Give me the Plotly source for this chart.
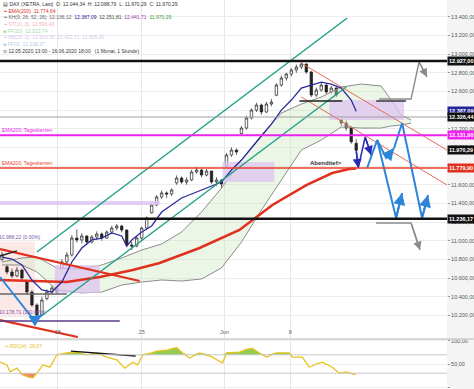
import plotly.graph_objects as go

# ---------------- data ----------------
bar_idx = list(range(72))
opens = [10800, 10720, 10665, 10622, 10686, 10560, 10450, 10311, 10204, 10380, 10450, 10493,
         10700, 10772, 10847, 11029, 11008, 11051, 10986, 11040, 11072, 11029, 11093, 11136,
         11158, 11115, 10954, 10943, 11029, 11136, 11300, 11383, 11469, 11512, 11501, 11620,
         11672, 11629, 11651, 11737, 11758, 11704, 11747, 11629, 11651, 11800, 11919, 11972,
         12150, 12208, 12316, 12401, 12455, 12380, 12466, 12560, 12669, 12744, 12787, 12830,
         12862, 12894, 12809, 12562, 12616, 12669, 12594, 12637, 12300, 12262, 12208, 12044.34]
highs = [10880, 10740, 10700, 10720, 10700, 10580, 10470, 10330, 10400, 10480, 10520, 10510,
         10800, 10880, 11060, 11120, 11080, 11060, 11060, 11100, 11090, 11110, 11160, 11180,
         11170, 11120, 10990, 11050, 11150, 11260, 11400, 11490, 11540, 11530, 11560, 11700,
         11690, 11680, 11760, 11790, 11770, 11770, 11750, 11680, 11660, 11940, 12000, 11990,
         12230, 12340, 12420, 12480, 12470, 12490, 12520, 12690, 12770, 12800, 12850, 12890,
         12913, 12900, 12820, 12640, 12700, 12680, 12660, 12650, 12320, 12290, 12230, 12088.79]
lows = [10780, 10640, 10600, 10610, 10580, 10420, 10290, 10179, 10190, 10360, 10420, 10430,
        10690, 10750, 10830, 10980, 10970, 10960, 10970, 11010, 11000, 11020, 11070, 11110,
        11090, 10930, 10900, 10930, 11010, 11120, 11290, 11370, 11450, 11460, 11480, 11600,
        11610, 11600, 11640, 11720, 11680, 11690, 11610, 11590, 11560, 11790, 11900, 11920,
        12140, 12190, 12300, 12380, 12350, 12370, 12440, 12550, 12650, 12720, 12760, 12800,
        12840, 12790, 12540, 12540, 12600, 12570, 12580, 12540, 12230, 12180, 12040, 11970.29]
closes = [10847, 10665, 10622, 10686, 10600, 10450, 10311, 10204, 10364, 10450, 10493, 10450,
          10772, 10847, 11029, 11008, 11051, 10986, 11040, 11072, 11029, 11093, 11136, 11158,
          11115, 10954, 10943, 11029, 11136, 11244, 11383, 11469, 11512, 11501, 11544, 11672,
          11629, 11651, 11737, 11758, 11704, 11747, 11629, 11651, 11608, 11919, 11972, 11951,
          12208, 12316, 12401, 12455, 12380, 12466, 12487, 12669, 12744, 12787, 12830, 12862,
          12894, 12809, 12562, 12616, 12669, 12594, 12637, 12562, 12262, 12208, 12060, 11970.29]

date_tick_pos = [11.2, 28.0, 44.6, 57.8]
date_tick_text = ["18", "25", "Jun", "8"]
price_ticks = [10000, 10200, 10400, 10600, 10800, 11000, 11200, 11400, 11600, 11800,
               12000, 12200, 12400, 12600, 12800, 13000, 13200, 13400]
rsi_ticks = [0, 50, 100]

# Ichimoku cloud (two spans)
cloud_idx = [0, 4, 7, 11, 16, 20, 24, 28, 32, 36, 40, 44, 48, 52, 56, 60, 64, 68, 72, 76, 78, 80, 82]
cloud_upper = [10772, 10815, 10825, 10708, 10697, 10740, 10815, 10900, 10965, 11093, 11308, 11565,
               11865, 12133, 12369, 12466, 12541, 12648, 12680, 12659, 12508, 12348, 12294]
cloud_lower = [10740, 10740, 10665, 10472, 10440, 10450, 10525, 10557, 10579, 10568, 10590, 10708,
               10986, 11329, 11651, 11972, 12080, 12219, 12208, 12208, 12230, 12240, 12262]

# Tenkan line (navy)
tenkan_idx = [0, 2, 4, 6, 8, 10, 12, 14, 16, 18, 20, 22, 24, 25, 26, 28, 30, 32, 34, 36, 38, 40,
              42, 44, 46, 48, 50, 52, 54, 56, 58, 60, 62, 64, 66, 68, 70, 71]
tenkan_val = [10825, 10804, 10740, 10579, 10472, 10450, 10557, 10772, 10922, 11008, 11029, 11083,
              11051, 10943, 11008, 11093, 11158, 11308, 11383, 11458, 11501, 11544, 11587, 11629,
              11758, 11865, 11994, 12123, 12251, 12401, 12508, 12637, 12669, 12701, 12680, 12637,
              12508, 12387.09]

# EMA(200)
ema_idx = [-0.4, 5.6, 13, 19.6, 26.2, 31.6, 39.6, 47.6, 54.2, 61, 66.2, 69.6, 71]
ema_val = [10579, 10568, 10557, 10611, 10686, 10761, 10922, 11115, 11383, 11597, 11726, 11769, 11774.64]

# horizontal levels
level_vals = [12927.00, 12326.44, 12131.90, 11779.90, 11236.17]
level_colors = ["#111111", "#a0a0a0", "#ee22ee", "#e8402a", "#111111"]
level_widths = [2.6, 1.2, 2.0, 1.5, 2.6]

# right-hand price labels
label_vals = [12927.00, 12387.09, 12326.44, 12131.90, 11970.29, 11779.90, 11236.17]
label_bg = ["#111111", "#23239a", "#111111", "#ee22ee", "#111111", "#e0301e", "#111111"]

# shaded zones: x0, x1 (bar index), y0, y1 (price)
zone_x0 = [10.6, 44.2, 65.6]
zone_x1 = [19.6, 54.6, 80.6]
zone_y0 = [10440, 11629, 12294]
zone_y1 = [10740, 11844, 12508]

fib_x = [-0.4, 6.6]
fib_levels = [10988.22, 10178.71]

# trend lines: (x list, y list)
teal_upper_x, teal_upper_y = [7, 69.2], [10879, 13388]
teal_lower_x, teal_lower_y = [7.6, 69], [10182, 12648]
red_thick_up_x, red_thick_up_y = [-0.4, 27.6], [10911, 10568]
red_thick_lo_x, red_thick_lo_y = [-0.4, 15.2], [10150, 9968]
red_thin1_x, red_thin1_y = [60, 89.2], [12905, 11972]
red_thin2_x, red_thin2_y = [60, 89.2], [12541, 11597]
blue_left_x, blue_left_y = [-0.4, 6.4, 8], [10611, 10150, 10204]
band_x, band_y = [-0.4, 31.6], [11404, 11404]
gray_short_x, gray_short_y = [-0.4, 13], [10429, 10429]
purple_low_x, purple_low_y = [-0.4, 23.6], [10140, 10140]
black_seg1_x, black_seg1_y = [59.6, 68.2], [12498, 12498]
black_seg2_x, black_seg2_y = [75, 81], [12498, 12498]
black_small_x, black_small_y = [-0.4, 3], [10836, 10890]

# forecast arrows
gray_up_x, gray_up_y = [75.6, 82, 83.6, 85.2], [12519, 12519, 12916, 12755]
gray_dn_x, gray_dn_y = [75, 82, 83.8], [11190, 11190, 10900]
navy_x, navy_y = [71, 71.4, 72.8, 74], [11972, 11780, 12112, 11919]
blue_a_x, blue_a_y = [73.2, 75.2, 77, 78.6], [11780, 12080, 11887, 11994]
blue_b_x, blue_b_y = [75.2, 79, 80.2], [12080, 11244, 11512]
blue_c_x, blue_c_y = [78.6, 80.2, 84.2, 85.4], [11994, 12262, 11244, 11490]

# RSI(14)
rsi_idx = [-0.4, 1, 1.6, 3, 4.2, 5.2, 6.2, 7, 8.2, 9.6, 11, 13, 15, 17, 19, 21, 23, 24.6, 26.2,
           27.2, 28.2, 30, 31, 33, 35, 36.2, 37.6, 39.6, 42.2, 44.2, 45, 47.6, 49, 50.2, 51.6,
           53, 55, 57.6, 58.2, 60.2, 61.6, 63, 64.2, 66.2, 67.6, 69, 70.8]
rsi_val = [54, 48, 33, 41, 26, 22, 20, 30, 48, 43, 70, 74, 76, 70, 74, 65, 59, 41, 54,
           48, 70, 74, 78, 80, 86, 74, 63, 74, 65, 52, 74, 76, 82, 84, 74,
           65, 74, 74, 65, 65, 43, 50, 54, 43, 30, 33, 26.87]
rsi_div_x, rsi_div_y = [13.8, 26.8], [78, 67.4]
rsi_bands = [70, 30]


def de(v):
    s = f"{v:,.2f}"
    return s.replace(",", "X").replace(".", ",").replace("X", ".")


FONT = "Arial, Liberation Sans, sans-serif"
fig = go.Figure()

# cloud
fig.add_trace(go.Scatter(x=cloud_idx, y=cloud_lower, mode="lines",
                         line=dict(color="#8c8c8c", width=1), hoverinfo="skip"))
fig.add_trace(go.Scatter(x=cloud_idx, y=cloud_upper, mode="lines", fill="tonexty",
                         fillcolor="rgba(205,232,195,0.4)",
                         line=dict(color="#8c8c8c", width=1), hoverinfo="skip"))

# zones (drawn above the cloud fill, below candles)
for x0, x1, y0, y1 in zip(zone_x0, zone_x1, zone_y0, zone_y1):
    fig.add_trace(go.Scatter(x=[x0, x1, x1, x0, x0], y=[y0, y0, y1, y1, y0], mode="lines",
                             fill="toself", fillcolor="rgba(222,195,240,0.75)",
                             line=dict(width=0), hoverinfo="skip"))

shapes = []
shapes.append(dict(type="rect", xref="x", yref="y", x0=fib_x[0], x1=fib_x[1],
                   y0=fib_levels[1], y1=fib_levels[0],
                   fillcolor="rgba(250,205,205,0.45)", line=dict(width=0), layer="below"))

# horizontal levels
for v, c, w in zip(level_vals, level_colors, level_widths):
    shapes.append(dict(type="line", xref="paper", yref="y", x0=0, x1=1, y0=v, y1=v,
                       line=dict(color=c, width=w)))

# RSI bands
for v in rsi_bands:
    shapes.append(dict(type="line", xref="paper", yref="y2", x0=0, x1=1, y0=v, y1=v,
                       line=dict(color="#c8c8c8", width=1)))
# panel separator
shapes.append(dict(type="line", xref="paper", yref="paper", x0=0, x1=1.1, y0=0.1285, y1=0.1285,
                   line=dict(color="#cfcfcf", width=1.5)))


def line(x, y, color, width, dash=None):
    fig.add_trace(go.Scatter(x=x, y=y, mode="lines", hoverinfo="skip",
                             line=dict(color=color, width=width, dash=dash)))


line(band_x, band_y, "rgba(220,195,238,0.8)", 4)
line(ema_idx, ema_val, "#e0301e", 2.6)
line(tenkan_idx, tenkan_val, "#2b2b9a", 1.3)

fig.add_trace(go.Candlestick(
    x=bar_idx, open=opens, high=highs, low=lows, close=closes,
    increasing=dict(line=dict(color="#222222", width=0.7), fillcolor="#ffffff"),
    decreasing=dict(line=dict(color="#222222", width=0.7), fillcolor="#222222"),
    whiskerwidth=0, hoverinfo="skip", showlegend=False))

line(teal_upper_x, teal_upper_y, "#1f9e86", 1.4)
line(teal_lower_x, teal_lower_y, "#1f9e86", 1.4)
line(red_thick_up_x, red_thick_up_y, "#e0301e", 2.2)
line(red_thick_lo_x, red_thick_lo_y, "#e0301e", 2.2)
line(red_thin1_x, red_thin1_y, "#e86a5a", 1)
line(red_thin2_x, red_thin2_y, "#e86a5a", 1)
line(gray_short_x, gray_short_y, "#666666", 1.5)
line(purple_low_x, purple_low_y, "#5a3a8a", 1.5)
line(black_seg1_x, black_seg1_y, "#222222", 1.3)
line(black_seg2_x, black_seg2_y, "#222222", 1.3)
line(black_small_x, black_small_y, "#222222", 1.3)
line(blue_left_x, blue_left_y, "#2d85d8", 2)
line(gray_up_x, gray_up_y, "#8a8a8a", 1.4)
line(gray_dn_x, gray_dn_y, "#8a8a8a", 1.4)
line(navy_x, navy_y, "#2a2ab8", 1.5)
line(blue_a_x, blue_a_y, "#2d85d8", 2)
line(blue_b_x, blue_b_y, "#2d85d8", 2)
line(blue_c_x, blue_c_y, "#2d85d8", 2)

# RSI panel
rsi_hi = [max(v, rsi_bands[0]) for v in rsi_val]
rsi_lo = [min(v, rsi_bands[1]) for v in rsi_val]
fig.add_trace(go.Scatter(x=rsi_idx, y=[rsi_bands[0]] * len(rsi_idx), mode="lines",
                         line=dict(width=0), xaxis="x2", yaxis="y2", hoverinfo="skip"))
fig.add_trace(go.Scatter(x=rsi_idx, y=rsi_hi, mode="lines", fill="tonexty",
                         fillcolor="rgba(120,190,40,0.8)", line=dict(width=0),
                         xaxis="x2", yaxis="y2", hoverinfo="skip"))
fig.add_trace(go.Scatter(x=rsi_idx, y=[rsi_bands[1]] * len(rsi_idx), mode="lines",
                         line=dict(width=0), xaxis="x2", yaxis="y2", hoverinfo="skip"))
fig.add_trace(go.Scatter(x=rsi_idx, y=rsi_lo, mode="lines", fill="tonexty",
                         fillcolor="rgba(240,110,60,0.8)", line=dict(width=0),
                         xaxis="x2", yaxis="y2", hoverinfo="skip"))
fig.add_trace(go.Scatter(x=rsi_idx, y=rsi_val, mode="lines", line=dict(color="#e8c21e", width=1.3),
                         xaxis="x2", yaxis="y2", hoverinfo="skip"))
fig.add_trace(go.Scatter(x=rsi_div_x, y=rsi_div_y, mode="lines", line=dict(color="#111111", width=1.4),
                         xaxis="x2", yaxis="y2", hoverinfo="skip"))

ann = []


def arrow(xs, ys, color, width):
    ann.append(dict(x=xs[-1], y=ys[-1], ax=xs[-2], ay=ys[-2], xref="x", yref="y",
                    axref="x", ayref="y", showarrow=True, arrowhead=2, arrowsize=1.2,
                    arrowwidth=width, arrowcolor=color, text=""))


arrow(gray_up_x, gray_up_y, "#8a8a8a", 1.4)
arrow(gray_dn_x, gray_dn_y, "#8a8a8a", 1.4)
arrow(navy_x[:2], navy_y[:2], "#2a2ab8", 1.5)
arrow(navy_x, navy_y, "#2a2ab8", 1.5)
arrow(blue_b_x, blue_b_y, "#2d85d8", 2)
arrow(blue_c_x, blue_c_y, "#2d85d8", 2)
arrow(blue_a_x, blue_a_y, "#2d85d8", 2)
arrow(blue_left_x, blue_left_y, "#2d85d8", 2)

# right-side price labels
for v, bg in zip(label_vals, label_bg):
    ann.append(dict(x=1, y=v, xref="paper", yref="y", xanchor="left", yanchor="middle",
                    text="<b>" + de(v) + "</b>", showarrow=False, bgcolor=bg, borderpad=1,
                    font=dict(size=5.5, color="#ffffff", family=FONT)))

# texts on chart
ann.append(dict(x=0, y=level_vals[2], xref="paper", yref="y", xanchor="left", yanchor="bottom",
                text="EMA200, Tageskerzen", showarrow=False,
                font=dict(size=5, color="#ee22ee", family=FONT)))
ann.append(dict(x=0, y=level_vals[3], xref="paper", yref="y", xanchor="left", yanchor="bottom",
                text="EMA200, Tageskerzen", showarrow=False,
                font=dict(size=5, color="#e8402a", family=FONT)))
ann.append(dict(x=68.6, y=level_vals[3], xref="x", yref="y", xanchor="right", yanchor="bottom",
                text="<b>Abendtief></b>", showarrow=False,
                font=dict(size=6, color="#333333", family=FONT)))
ann.append(dict(x=0, y=fib_levels[0], xref="paper", yref="y", xanchor="left", yanchor="bottom",
                xshift=-3, text=de(fib_levels[0]) + " (0.00%)", showarrow=False,
                font=dict(size=5, color="#7a5aa8", family=FONT)))
ann.append(dict(x=0, y=fib_levels[1], xref="paper", yref="y", xanchor="left", yanchor="bottom",
                xshift=-3, text=de(fib_levels[1]) + " (100.00%)", showarrow=False,
                font=dict(size=5, color="#7a5aa8", family=FONT)))

# header legend
header = [
    ("▤ DAX (XETRA, Last)  O: 12.044,34  H: 12.088,79  L: 11.970,29  C: 11.970,29", "#333333", 4),
    ("━ EMA(200)  11.774,64", "#e0301e", 10.7),
    ("━ KH(9, 26, 52, 26)  <span style='color:#666'>12.136,12</span>  "
     "<span style='color:#23239a'>12.387,09</span>  <span style='color:#444'>12.251,81</span>  "
     "<span style='color:#9a3aa8'>12.441,71</span>  <span style='color:#3a9a3a'>11.970,29</span>",
     "#666666", 17.3),
    ("━ ST(10, 3)  12.590,43", "#f2b4b4", 24),
    ("■ FF(20)  12.513,74", "#a8d8a8", 30.6),
    ("━ BB(20, 2)  12.619,35  12.422,71  11.926,40", "#d8c8e8", 37.2),
    ("■ FF(0)  12.338,37", "#b8cce8", 43.8),
    ("⊙ 12.05.2020 13:00 - 16.06.2020 18:00   (1 Monat, 1 Stunde)", "#333333", 50.7),
]
for txt, col, ypx in header:
    ann.append(dict(x=0, y=1 - ypx / 389, xref="paper", yref="paper", xanchor="left",
                    yanchor="middle", xshift=1, text=txt, showarrow=False,
                    font=dict(size=5, color=col, family=FONT)))
ann.append(dict(x=0, y=100, xref="paper", yref="y2", xanchor="left", yanchor="top", xshift=2,
                text="━ RSI(14)  26,87", showarrow=False,
                font=dict(size=5, color="#e8c21e", family=FONT)))

fig.update_layout(
    width=474, height=389,
    margin=dict(l=0, r=27, t=0, b=0),
    paper_bgcolor="#f4f4f4", plot_bgcolor="#ffffff",
    showlegend=False, separators=",.",
    font=dict(family=FONT, size=6, color="#555555"),
    shapes=shapes, annotations=ann,
    xaxis=dict(domain=[0, 1], range=[-0.4, 89.2], anchor="y", tickmode="array",
               tickvals=date_tick_pos, ticktext=date_tick_text, ticklabelposition="inside",
               tickfont=dict(size=5.5, color="#666666"), showgrid=True, gridcolor="#e6e6e6",
               zeroline=False, showline=False, ticks="", rangeslider=dict(visible=False),
               automargin=False, fixedrange=True),
    yaxis=dict(domain=[0.1311, 1], range=[9957, 13581], side="right", anchor="x",
               tickmode="array", tickvals=price_ticks, tickformat=",.2f",
               tickfont=dict(size=5.5, color="#555555"), showgrid=True, gridcolor="#ececec",
               zeroline=False, ticks="outside", ticklen=2, tickcolor="#999999",
               automargin=False),
    xaxis2=dict(domain=[0, 1], range=[-0.4, 89.2], anchor="y2", matches="x", tickmode="array",
                tickvals=date_tick_pos, showticklabels=False, showgrid=True, gridcolor="#e6e6e6",
                zeroline=False, ticks="", automargin=False),
    yaxis2=dict(domain=[0, 0.126], range=[-4.3, 102.2], side="right", anchor="x2",
                tickmode="array", tickvals=rsi_ticks, tickformat=",.2f",
                tickfont=dict(size=5.5, color="#555555"), showgrid=True, gridcolor="#ececec",
                zeroline=False, ticks="outside", ticklen=2, tickcolor="#999999",
                automargin=False),
)

fig.write_html("out.html", config={"displayModeBar": False, "staticPlot": True},
               post_script="document.body.style.margin='0';document.body.style.overflow='hidden';")
